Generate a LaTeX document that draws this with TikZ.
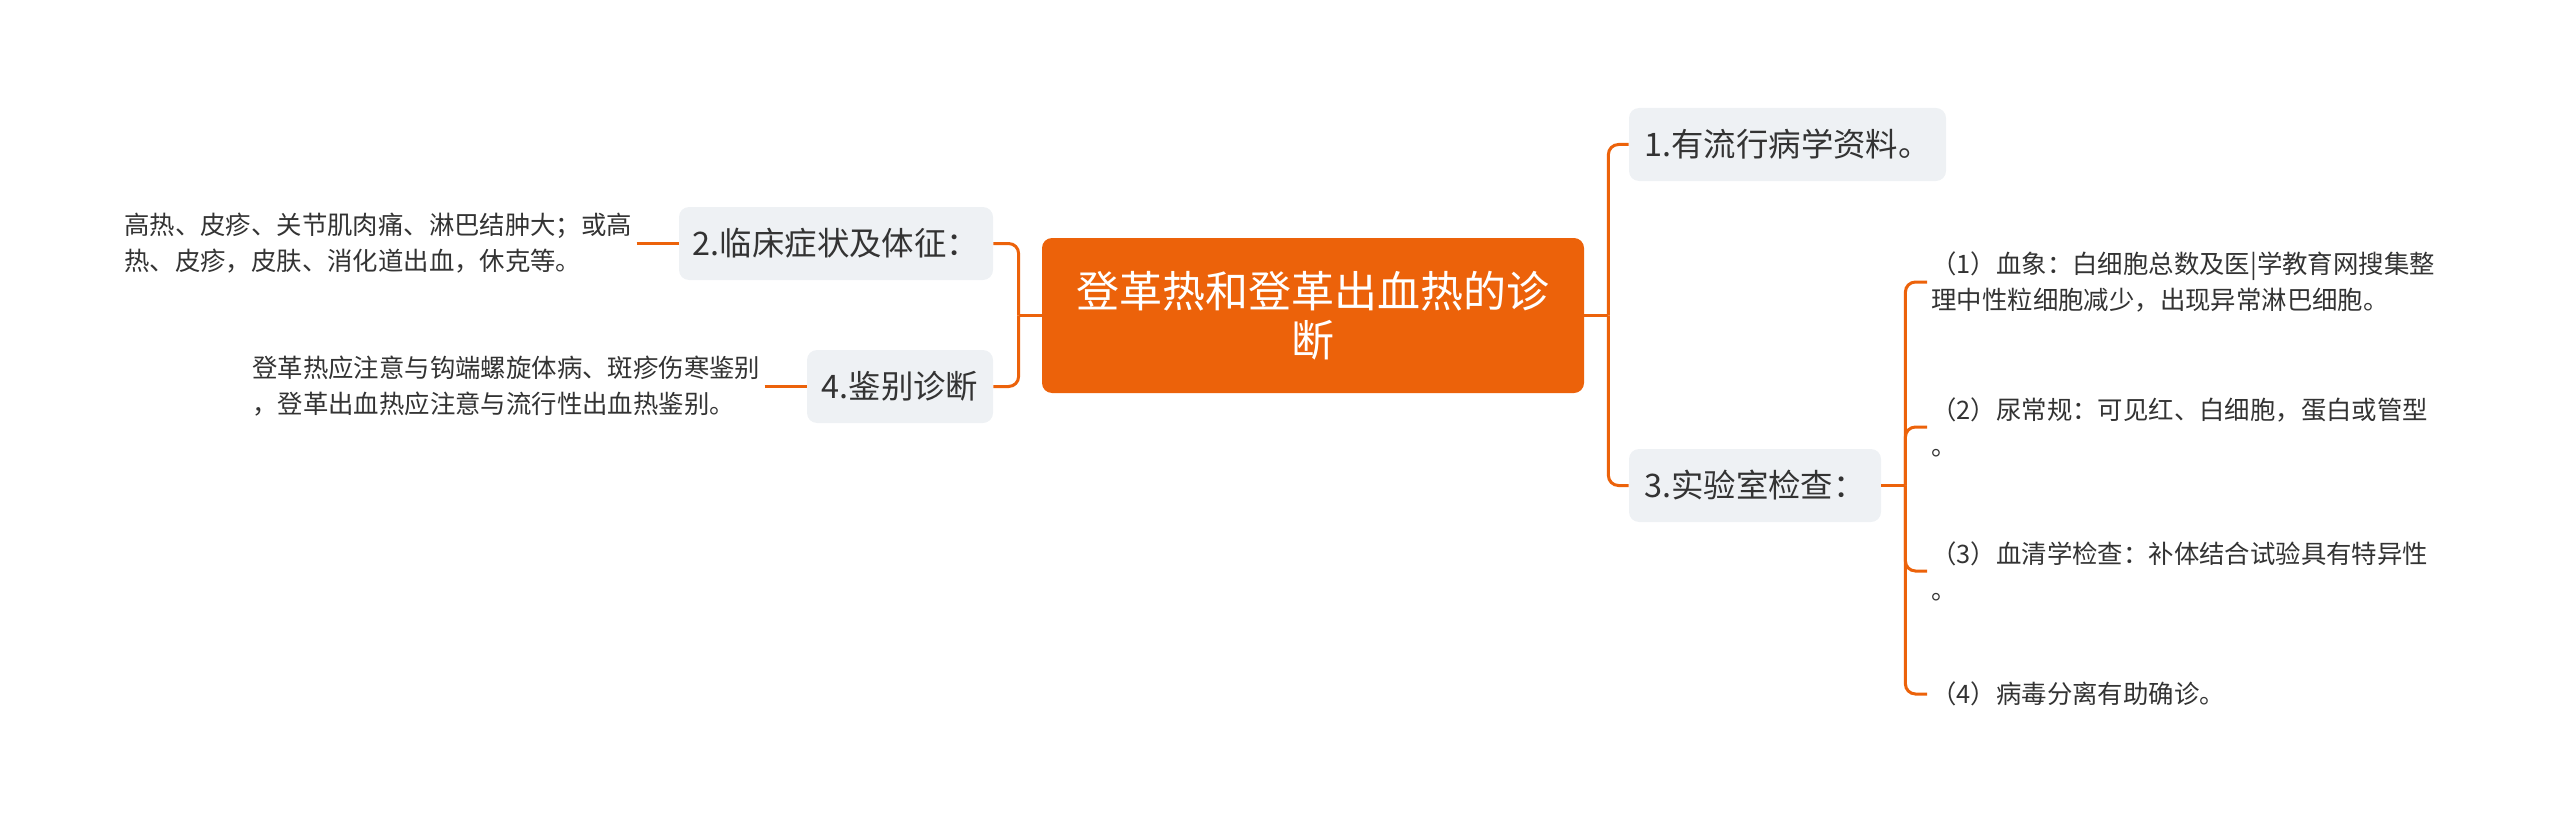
\documentclass[tikz,border=0pt]{standalone}
\usepackage{fontspec}
\setmainfont{Noto Sans CJK SC}
\usetikzlibrary{positioning}
\definecolor{mmorange}{RGB}{236,98,10}
\definecolor{mmgray}{RGB}{238,241,244}
\definecolor{mmtext}{RGB}{51,51,51}
\tikzset{
  rootbox/.style={fill=mmorange,rounded corners=5pt,text=white,align=center,
    minimum width=271pt,minimum height=77.5pt,
    font=\fontsize{21.5pt}{24.5pt}\selectfont},
  topicbox/.style={fill=mmgray,rounded corners=5pt,text=mmtext,
    minimum height=36.5pt,inner xsep=6pt,
    font=\fontsize{16.2pt}{18pt}\selectfont},
  leaftext/.style={text=mmtext,align=left,inner sep=2pt,
    font=\fontsize{12.7pt}{18pt}\selectfont},
  link/.style={draw=mmorange,line width=1.5pt,rounded corners=5pt},
}

\begin{document}
\begin{tikzpicture}[x=0.5pt,y=-0.5pt]
\useasboundingbox (0,0) rectangle (2560,829);

% centre topic
\node[rootbox] (root) at (1313,315.5) {登革热和登革出血热的诊\\断};

% main topics
\node[topicbox,minimum width=158.5pt] (n1) at (1787.5,144.5) {1.有流行病学资料。};
\node[topicbox,minimum width=126pt]   (n3) at (1755,485.5) {3.实验室检查：};
\node[topicbox,minimum width=157pt]   (n2) at (836,243.5) {2.临床症状及体征：};
\node[topicbox,minimum width=93pt]    (n4) at (900,386.5) {4.鉴别诊断};

% left details
\node[leaftext,left=21pt of n2] (l2)
  {高热、皮疹、关节肌肉痛、淋巴结肿大；或高\\热、皮疹，皮肤、消化道出血，休克等。};
\node[leaftext,left=21pt of n4] (l4)
  {登革热应注意与钩端螺旋体病、斑疹伤寒鉴别\\，登革出血热应注意与流行性出血热鉴别。};

% lab tests
\node[leaftext,anchor=west] (r1) at (1927,282)
  {（1）血象：白细胞总数及医|学教育网搜集整\\理中性粒细胞减少，出现异常淋巴细胞。};
\node[leaftext,anchor=west] (r2) at (1927,427)
  {（2）尿常规：可见红、白细胞，蛋白或管型\\。};
\node[leaftext,anchor=west] (r3) at (1927,571)
  {（3）血清学检查：补体结合试验具有特异性\\。};
\node[leaftext,anchor=west] (r4) at (1927,694)
  {（4）病毒分离有助确诊。};

% connectors
\draw[link] (root.east) -- ++(24,0) coordinate (b1);
\draw[link] (b1) |- (n1.west);
\draw[link] (b1) |- (n3.west);
\draw[link] (root.west) -- ++(-23,0) coordinate (b2);
\draw[link] (b2) |- (n2.east);
\draw[link] (b2) |- (n4.east);
\draw[link] (l2.east) -- (n2.west);
\draw[link] (l4.east) -- (n4.west);
\draw[link] (n3.east) -- ++(24,0) coordinate (b3);
\foreach \leaf in {r1,r2,r3,r4}
  \draw[link] (b3) |- (\leaf.west);
\end{tikzpicture}
\end{document}
